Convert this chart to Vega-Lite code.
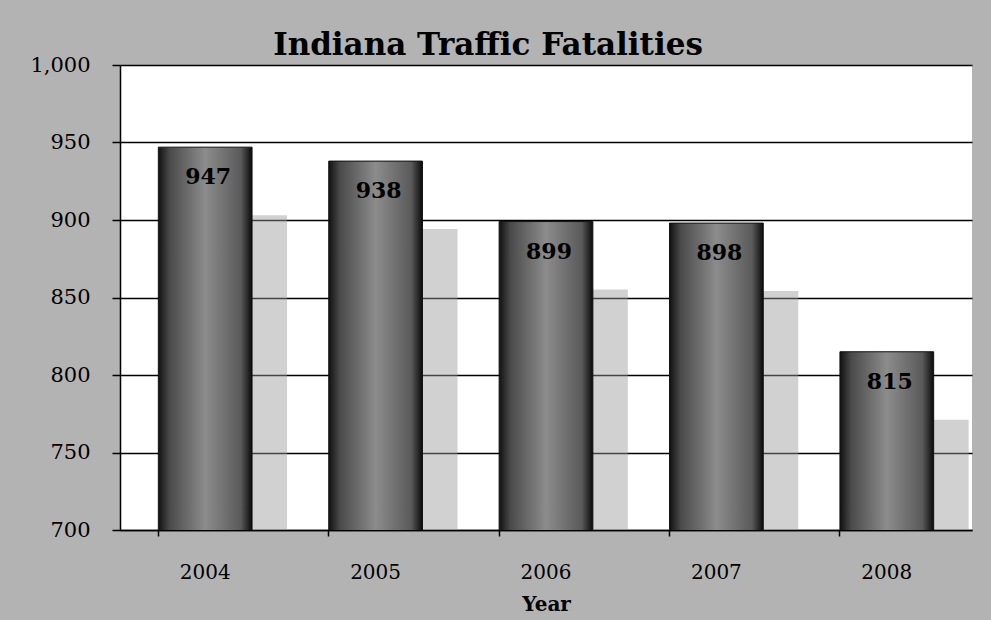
{
  "$schema": "https://vega.github.io/schema/vega-lite/v6.json",
  "width": 852,
  "height": 465,
  "autosize": {"type": "none"},
  "padding": {"left": 120, "top": 65, "right": 19, "bottom": 90},
  "background": "#b3b3b3",
  "config": {
    "view": {"fill": "white", "stroke": null},
    "font": "DejaVu Serif"
  },
  "title": {
    "text": "Indiana Traffic Fatalities",
    "font": "DejaVu Serif",
    "fontSize": 31,
    "fontWeight": "bold",
    "color": "black",
    "anchor": "middle",
    "dx": -58,
    "offset": -8
  },
  "data": {
    "values": [
      {"Year": "2004", "Fatalities": 947},
      {"Year": "2005", "Fatalities": 938},
      {"Year": "2006", "Fatalities": 899},
      {"Year": "2007", "Fatalities": 898},
      {"Year": "2008", "Fatalities": 815}
    ]
  },
  "encoding": {
    "x": {
      "field": "Year",
      "type": "nominal",
      "scale": {"paddingInner": 0.45, "paddingOuter": 0.225},
      "axis": {
        "title": "Year",
        "titleFont": "DejaVu Serif",
        "titleFontSize": 20,
        "titleFontWeight": "bold",
        "titleColor": "black",
        "titlePadding": 12,
        "labelFont": "DejaVu Serif",
        "labelFontSize": 20,
        "labelColor": "black",
        "labelAngle": 0,
        "labelPadding": 26,
        "bandPosition": 0,
        "tickSize": 6,
        "tickColor": "black",
        "tickWidth": 1.5,
        "domainColor": "black",
        "domainWidth": 1.5
      }
    },
    "y": {
      "field": "Fatalities",
      "type": "quantitative",
      "scale": {"domain": [700, 1000], "nice": false, "zero": false},
      "axis": {
        "title": null,
        "values": [700, 750, 800, 850, 900, 950, 1000],
        "format": ",d",
        "labelFont": "DejaVu Serif",
        "labelFontSize": 21,
        "labelColor": "black",
        "labelPadding": 22,
        "tickSize": 8,
        "tickColor": "black",
        "tickWidth": 1.5,
        "domainColor": "black",
        "domainWidth": 1.5,
        "grid": true,
        "gridColor": "black",
        "gridWidth": 1.5,
        "gridOpacity": 1
      }
    }
  },
  "layer": [
    {
      "mark": {"type": "bar", "clip": true, "xOffset": 35, "yOffset": 68, "color": "#9a9a9a", "opacity": 0.45}
    },
    {
      "mark": {
        "type": "bar",
        "clip": true,
        "stroke": "#111111",
        "strokeWidth": 1,
        "color": {
          "gradient": "linear",
          "x1": 0, "y1": 0, "x2": 1, "y2": 0,
          "stops": [
            {"offset": 0, "color": "#111111"},
            {"offset": 0.12, "color": "#4a4a4a"},
            {"offset": 0.5, "color": "#8c8c8c"},
            {"offset": 0.88, "color": "#5a5a5a"},
            {"offset": 1, "color": "#0a0a0a"}
          ]
        }
      }
    },
    {
      "mark": {"type": "text", "baseline": "middle", "align": "center", "dy": 30, "dx": 3, "font": "DejaVu Serif", "fontSize": 22, "fontWeight": "bold", "color": "black"},
      "encoding": {"text": {"field": "Fatalities", "type": "quantitative"}}
    }
  ]
}
